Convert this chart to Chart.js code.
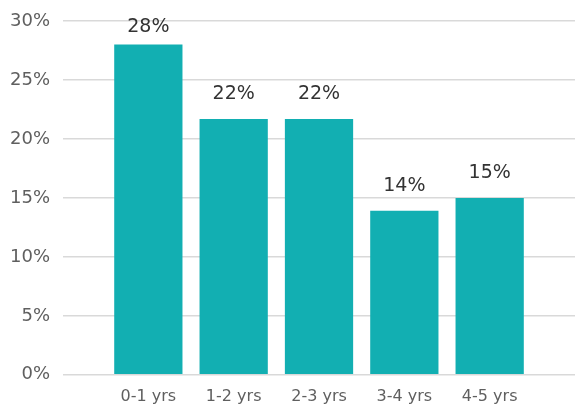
<!DOCTYPE html>
<html>
<head>
<meta charset="utf-8">
<script src="https://cdn.jsdelivr.net/npm/chart.js@4/dist/chart.umd.min.js"></script>
<style>
html,body{margin:0;padding:0;background:#fff;}
#wrap{width:575px;height:407px;position:relative;}
</style>
</head>
<body>
<div id="wrap"><canvas id="c"></canvas></div>
<script>
const categories = ['0-1 yrs', '1-2 yrs', '2-3 yrs', '3-4 yrs', '4-5 yrs'];
const values = [28.0, 21.7, 21.7, 13.9, 15.0];
const valueLabels = ['28%', '22%', '22%', '14%', '15%'];
const yTicks = [0, 5, 10, 15, 20, 25, 30];

// pad with empty slots at each end so bars sit half a slot in from the grid edges
const labels = [''].concat(categories, ['']);
const data = [null].concat(values, [null]);
const dl = [''].concat(valueLabels, ['']);

const FONT = '"DejaVu Sans", "Liberation Sans", Arial, sans-serif';

const barLabels = {
  id: 'barLabels',
  afterDatasetsDraw(chart) {
    const ctx = chart.ctx;
    const meta = chart.getDatasetMeta(0);
    ctx.save();
    ctx.font = '19px ' + FONT;
    ctx.fillStyle = '#333333';
    ctx.textAlign = 'center';
    ctx.textBaseline = 'middle';
    meta.data.forEach((bar, i) => {
      if (!dl[i]) return;
      let y = bar.y - 25;
      y = Math.max(y, chart.chartArea.top + 6);
      ctx.fillText(dl[i], bar.x, y);
    });
    ctx.restore();
  }
};

new Chart(document.getElementById('c'), {
  type: 'bar',
  data: {
    labels: labels,
    datasets: [{
      data: data,
      backgroundColor: '#12AFB2',
      borderWidth: 0,
      barPercentage: 0.8,
      categoryPercentage: 1.0
    }]
  },
  options: {
    responsive: true,
    maintainAspectRatio: false,
    animation: false,
    layout: { padding: { left: -3, right: 0, top: 21, bottom: -11 } },
    plugins: { legend: { display: false }, tooltip: { enabled: false } },
    scales: {
      x: {
        offset: false,
        afterFit(scale) { scale.paddingLeft = 0; scale.paddingRight = 0; },
        grid: { display: false, drawTicks: false },
        border: { display: false },
        ticks: {
          color: '#5f5f5f',
          font: { family: FONT, size: 16 },
          padding: 12,
          autoSkip: false,
          maxRotation: 0
        }
      },
      y: {
        min: 0,
        max: 30,
        afterFit(scale) { scale.paddingTop = 0; scale.paddingBottom = 0; },
        afterBuildTicks(axis) { axis.ticks = yTicks.map(v => ({ value: v })); },
        grid: { color: '#D9D9D9', lineWidth: 1.5, drawTicks: false },
        border: { display: false },
        ticks: {
          color: '#5f5f5f',
          font: { family: FONT, size: 18 },
          padding: 13,
          callback: v => v + '%'
        }
      }
    }
  },
  plugins: [barLabels]
});
</script>
</body>
</html>
